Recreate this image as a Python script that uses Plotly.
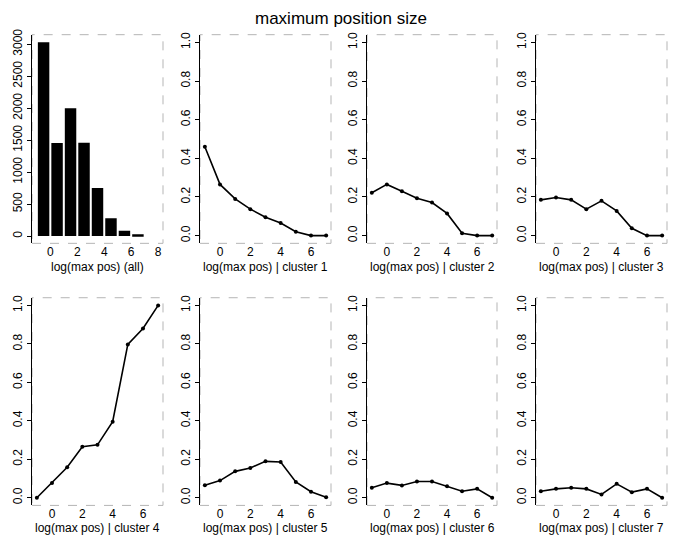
import plotly.graph_objects as go

W, H = 676, 542

# ---- data ----
hist_x = [-0.5, 0.5, 1.5, 2.5, 3.5, 4.5, 5.5, 6.5]
hist_counts = [3030, 1455, 2000, 1460, 750, 280, 85, 30]

line_x = [-1, 0, 1, 2, 3, 4, 5, 6, 7]
cluster1 = [0.46, 0.265, 0.19, 0.137, 0.095, 0.065, 0.02, 0.0, 0.0]
cluster2 = [0.222, 0.265, 0.23, 0.193, 0.171, 0.115, 0.012, 0.0, 0.0]
cluster3 = [0.185, 0.197, 0.185, 0.137, 0.18, 0.128, 0.038, 0.0, 0.0]
cluster4 = [0.0, 0.077, 0.158, 0.265, 0.275, 0.395, 0.797, 0.88, 1.0]
cluster5 = [0.065, 0.089, 0.137, 0.155, 0.189, 0.186, 0.082, 0.031, 0.003]
cluster6 = [0.052, 0.076, 0.064, 0.084, 0.084, 0.06, 0.034, 0.046, 0.0]
cluster7 = [0.034, 0.046, 0.052, 0.046, 0.017, 0.072, 0.029, 0.046, 0.0]
clusters = [cluster1, cluster2, cluster3, cluster4, cluster5, cluster6, cluster7]

x_titles = ["log(max pos) (all)"] + [f"log(max pos) | cluster {i}" for i in range(1, 8)]
title_text = "maximum position size"

# ---- layout geometry (pixels) ----
cols = [(32, 163), (200, 331), (367, 497), (536, 667)]
rows = [(29, 240), (295, 505)]

FONT = "Liberation Sans, Arial, sans-serif"

fig = go.Figure()
layout = dict(
    width=W, height=H, margin=dict(l=0, r=0, t=0, b=0),
    paper_bgcolor="white", plot_bgcolor="white", showlegend=False,
    font=dict(family=FONT, size=12, color="black"),
)
shapes = []
annotations = []

for i in range(8):
    r, c = divmod(i, 4)
    x0, x1 = cols[c]
    y0, y1 = rows[r]
    xd = [x0 / W, x1 / W]
    yd = [1 - y1 / H, 1 - y0 / H]
    n = "" if i == 0 else str(i + 1)
    xa, ya = "x" + n, "y" + n
    if i == 0:
        fig.add_trace(go.Bar(x=hist_x, y=hist_counts, width=0.85,
                             marker=dict(color="black", line=dict(width=0)),
                             xaxis=xa, yaxis=ya))
        xrange = [-1.36, 8.36]
        xticks = [0, 2, 4, 6, 8]
        yrange = [-113, 3148]
        yticks = [0, 500, 1000, 1500, 2000, 2500, 3000]
        ytxt = [str(v) for v in yticks]
    else:
        fig.add_trace(go.Scatter(x=line_x, y=clusters[i - 1], mode="lines+markers",
                                 line=dict(color="black", width=1.6),
                                 marker=dict(color="black", size=4),
                                 xaxis=xa, yaxis=ya))
        xrange = [-1.32, 7.32]
        xticks = [0, 2, 4, 6]
        yrange = [-0.04, 1.04]
        yticks = [0, 0.2, 0.4, 0.6, 0.8, 1.0]
        ytxt = [f"{v:.1f}" for v in yticks]
    layout["xaxis" + n] = dict(domain=xd, range=xrange, anchor=ya, tickvals=xticks,
                               ticktext=[str(v) for v in xticks],
                               showgrid=False, zeroline=False, showline=False,
                               ticks="", ticklen=0,
                               tickfont=dict(family=FONT, size=12, color="black"))
    layout["yaxis" + n] = dict(domain=yd, range=yrange, anchor=xa, tickvals=yticks,
                               ticktext=ytxt, tickangle=-90,
                               showgrid=False, zeroline=False, showline=True,
                               linecolor="black", linewidth=1,
                               ticks="outside", ticklen=4, tickcolor="black",
                               tickfont=dict(family=FONT, size=12, color="black"))
    # faint frame
    shapes.append(dict(type="rect", xref="paper", yref="paper",
                       x0=xd[0], x1=xd[1], y0=yd[0], y1=yd[1],
                       line=dict(color="#b5b5b5", width=1, dash="dash"),
                       layer="below"))
    # x title
    ty = 264 if r == 0 else 528
    annotations.append(dict(text=x_titles[i], xref="paper", yref="paper",
                            x=(x0 + x1) / 2 / W, y=1 - ty / H,
                            xanchor="center", yanchor="middle", showarrow=False,
                            font=dict(family=FONT, size=12, color="black")))

annotations.append(dict(text=title_text, xref="paper", yref="paper",
                        x=341 / W, y=1 - 13 / H, xanchor="center", yanchor="middle",
                        showarrow=False, font=dict(family=FONT, size=17, color="black")))

layout["shapes"] = shapes
layout["annotations"] = annotations
fig.update_layout(**layout)
fig.write_html("out.html")
